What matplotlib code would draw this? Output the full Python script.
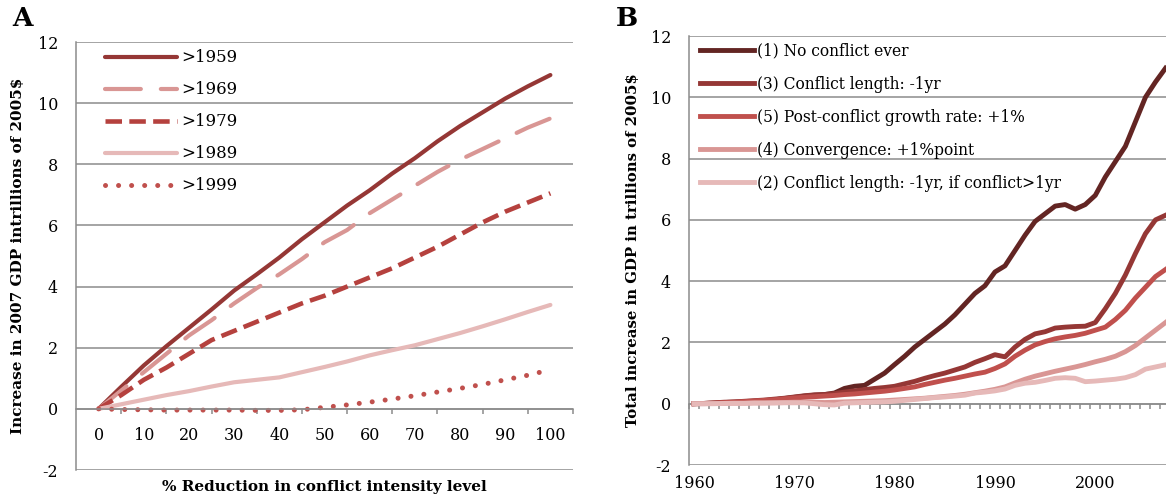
import matplotlib
matplotlib.use('Agg')
import matplotlib.pyplot as plt
import numpy as np

plt.rcParams['font.family'] = ['DejaVu Serif']

# ---- panel A data ----
reduction = [0, 5, 10, 15, 20, 25, 30, 35, 40, 45, 50, 55, 60, 65, 70, 75, 80, 85, 90, 95, 100]
gt1959 = [0, 0.72, 1.42, 2.05, 2.65, 3.25, 3.87, 4.4, 4.95, 5.55, 6.1, 6.65, 7.15, 7.7, 8.2, 8.75, 9.25, 9.7, 10.15, 10.55, 10.92]
gt1969 = [0, 0.6, 1.2, 1.8, 2.4, 2.9, 3.45, 3.95, 4.4, 4.9, 5.45, 5.85, 6.4, 6.85, 7.3, 7.75, 8.15, 8.5, 8.85, 9.2, 9.5]
gt1979 = [0, 0.45, 0.95, 1.35, 1.8, 2.25, 2.55, 2.85, 3.15, 3.45, 3.7, 4.0, 4.3, 4.6, 4.95, 5.3, 5.7, 6.1, 6.45, 6.75, 7.05]
gt1989 = [0, 0.15, 0.3, 0.45, 0.58, 0.73, 0.87, 0.95, 1.03, 1.2, 1.37, 1.55, 1.75, 1.92, 2.08, 2.28, 2.48, 2.7, 2.93, 3.17, 3.4]
gt1999 = [0, -0.02, -0.03, -0.04, -0.04, -0.04, -0.04, -0.05, -0.05, -0.03, 0.05, 0.13, 0.22, 0.32, 0.43, 0.55, 0.67, 0.8, 0.95, 1.1, 1.28]

# ---- panel B data ----
years = list(range(1960, 2008))
no_conflict = [0, 0.01, 0.02, 0.04, 0.05, 0.06, 0.08, 0.1, 0.13, 0.17, 0.21, 0.25, 0.28, 0.3, 0.35,
               0.5, 0.57, 0.6, 0.8, 1.0, 1.28, 1.55, 1.85, 2.1, 2.35, 2.6, 2.9, 3.25, 3.6, 3.85,
               4.3, 4.5, 5.0, 5.5, 5.95, 6.2, 6.45, 6.5, 6.35, 6.5, 6.8, 7.4, 7.9, 8.4, 9.2, 10.0, 10.5, 10.95]
length_1yr = [0, 0.01, 0.03, 0.05, 0.06, 0.08, 0.1, 0.12, 0.15, 0.18, 0.22, 0.26, 0.29, 0.3, 0.33,
              0.38, 0.42, 0.46, 0.5, 0.53, 0.57, 0.65, 0.73, 0.83, 0.92, 1.0, 1.1, 1.2, 1.35, 1.47,
              1.6, 1.53, 1.85, 2.1, 2.28, 2.35, 2.47, 2.5, 2.52, 2.53, 2.65, 3.1, 3.6, 4.2, 4.9, 5.55, 6.0, 6.15]
growth_1pct = [0, 0.01, 0.02, 0.04, 0.05, 0.07, 0.09, 0.11, 0.13, 0.16, 0.19, 0.21, 0.23, 0.25, 0.27,
               0.3, 0.32, 0.35, 0.38, 0.41, 0.45, 0.5, 0.55, 0.63, 0.7, 0.77, 0.83, 0.9, 0.97, 1.03,
               1.15, 1.3, 1.55, 1.75, 1.92, 2.03, 2.12, 2.18, 2.23, 2.3, 2.4, 2.5, 2.75, 3.05, 3.45, 3.8, 4.15, 4.38]
convergence = [0, 0.0, 0.01, 0.01, 0.02, 0.02, 0.03, 0.03, 0.04, 0.04, 0.05, 0.05, 0.05, 0.04, 0.05,
               0.06, 0.07, 0.08, 0.09, 0.1, 0.12, 0.14, 0.16, 0.18, 0.21, 0.24, 0.27, 0.31, 0.36, 0.41,
               0.47, 0.55, 0.68, 0.8, 0.9, 0.98, 1.06, 1.13, 1.2, 1.28, 1.37, 1.45, 1.55, 1.7, 1.9, 2.15, 2.4, 2.65]
length_if_long = [0, 0.0, 0.0, 0.01, 0.01, 0.01, 0.02, 0.02, 0.02, 0.03, 0.03, 0.03, 0.0, -0.03, -0.04,
                  0.02, 0.03, 0.04, 0.05, 0.06, 0.08, 0.11, 0.14, 0.17, 0.2, 0.22, 0.25, 0.28, 0.35, 0.38,
                  0.42, 0.48, 0.6, 0.67, 0.7, 0.76, 0.83, 0.85, 0.83, 0.72, 0.74, 0.77, 0.8, 0.85, 0.95, 1.13, 1.2, 1.27]

grid_c = '#8c8c8c'
yticks = list(range(-2, 13, 2))

fig = plt.figure(figsize=(11.66, 4.99), dpi=100)
axA = fig.add_axes([0.0652, 0.0581, 0.4262, 0.8577])
axB = fig.add_axes([0.5909, 0.0681, 0.4091, 0.8597])

for ax in (axA, axB):
    ax.set_ylim(-2, 12)
    ax.set_yticks(yticks)
    ax.set_yticklabels([str(t) for t in yticks])
    ax.grid(axis='y', color=grid_c, lw=1.1)
    ax.set_axisbelow(True)
    for s in ('top', 'right'):
        ax.spines[s].set_visible(False)
    ax.spines['left'].set_color(grid_c)
    ax.spines['left'].set_linewidth(1.1)
    ax.tick_params(axis='y', length=0, pad=13, labelsize=11.5)

# ---- panel A ----
lw = 3.0
axA.plot(reduction, gt1959, color='#953735', lw=lw, label='>1959', solid_capstyle='round')
axA.plot(reduction, gt1969, color='#d99694', lw=lw, label='>1969',
         linestyle=(0, (8.6, 4.8)), dash_capstyle='round')
axA.plot(reduction, gt1979, color='#b5413e', lw=3.3, label='>1979',
         linestyle=(0, (3.6, 1.6)), dash_capstyle='butt')
axA.plot(reduction, gt1989, color='#e6b9b8', lw=lw, label='>1989', solid_capstyle='round')
axA.plot(reduction, gt1999, color='#c0504d', lw=3.6, label='>1999',
         linestyle=(0, (0.01, 2.6)), dash_capstyle='round')

axA.set_xlim(-5, 105)
axA.set_xticks(range(0, 101, 10))
axA.set_xticks(range(5, 106, 10), minor=True)
axA.spines['bottom'].set_position(('data', 0))
axA.spines['bottom'].set_color(grid_c)
axA.spines['bottom'].set_linewidth(1.1)
axA.tick_params(axis='x', which='major', length=0, pad=13, labelsize=11.5)
axA.tick_params(axis='x', which='minor', length=3.6, width=1.1, color=grid_c)
axA.set_xlabel('% Reduction in conflict intensity level', fontsize=11, fontweight='bold')
axA.xaxis.set_label_coords(0.5, -0.04)
axA.xaxis.label.set_va('center')
axA.set_ylabel('Increase in 2007 GDP intrillions of 2005$', fontsize=11, fontweight='bold')
axA.yaxis.set_label_coords(-0.117, 0.5)
axA.yaxis.label.set_va('center')
axA.legend(loc='upper left', frameon=False, fontsize=12, handlelength=4.3,
           handletextpad=0.25, labelspacing=0.9, borderaxespad=0.3,
           bbox_to_anchor=(0.035, 1.01))

# ---- panel B ----
lwB = 3.5
axB.plot(years, no_conflict, color='#632523', lw=lwB, label='(1) No conflict ever')
axB.plot(years, length_1yr, color='#953735', lw=lwB, label='(3) Conflict length: -1yr')
axB.plot(years, growth_1pct, color='#c0504d', lw=lwB, label='(5) Post-conflict growth rate: +1%')
axB.plot(years, convergence, color='#d99694', lw=lwB, label='(4) Convergence: +1%point')
axB.plot(years, length_if_long, color='#e6b9b8', lw=lwB, label='(2) Conflict length: -1yr, if conflict>1yr')

axB.set_xlim(1959.5, 2007.05)
axB.set_xticks(range(1960, 2008, 10))
axB.spines['bottom'].set_visible(False)
axB.tick_params(axis='x', length=0, pad=7, labelsize=11.5)
zero_axis = axB.secondary_xaxis(2 / 14)
zero_axis.set_xticks(np.arange(1959.5, 2007.5, 1.0))
zero_axis.tick_params(axis='x', length=3.6, width=1.1, color=grid_c, labelbottom=False)
zero_axis.spines['bottom'].set_color(grid_c)
zero_axis.spines['bottom'].set_linewidth(1.1)
axB.set_ylabel('Total increase in GDP in trillions of 2005$', fontsize=10.7, fontweight='bold')
axB.yaxis.set_label_coords(-0.117, 0.5)
axB.yaxis.label.set_va('center')
axB.legend(loc='upper left', frameon=False, fontsize=11.2, handlelength=3.5,
           handletextpad=0.15, labelspacing=1.03, borderaxespad=0.3,
           bbox_to_anchor=(0.0, 1.01))

fig.text(0.019, 0.962, 'A', fontsize=19, fontweight='bold', va='center', ha='center')
fig.text(0.538, 0.962, 'B', fontsize=19, fontweight='bold', va='center', ha='center')

fig.savefig('out.png', dpi=100)
